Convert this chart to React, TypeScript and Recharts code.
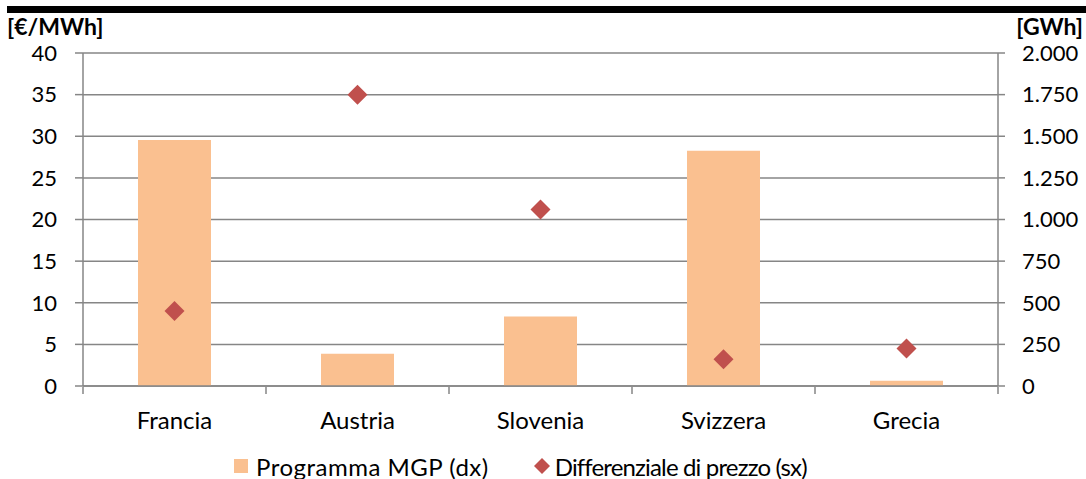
import {
  ComposedChart,
  Bar,
  Line,
  XAxis,
  YAxis,
  CartesianGrid,
  Legend,
} from "recharts";

const countries = ["Francia", "Austria", "Slovenia", "Svizzera", "Grecia"];
// Programma MGP, GWh (right axis)
const programmaMgp = [1478, 193, 417, 1413, 32];
// Differenziale di prezzo, €/MWh (left axis)
const differenziale = [9.0, 35.0, 21.2, 3.2, 4.5];

const priceTicks = [0, 5, 10, 15, 20, 25, 30, 35, 40];
const energyTicks = [0, 250, 500, 750, 1000, 1250, 1500, 1750, 2000];
const edgeTicks = [0, 1, 2, 3, 4, 5];

const data = countries.map((name, i) => ({
  name,
  slot: i + 0.5,
  mgp: programmaMgp[i],
  diff: differenziale[i],
}));

const FONT = "Lato, 'Open Sans', sans-serif";
const GRID = "#868686";
const BAR = "#FAC090";
const MARKER = "#C0504D";

const fmtThousands = (v: number) =>
  v >= 1000 ? `${Math.floor(v / 1000)}.${String(v % 1000).padStart(3, "0")}` : String(v);

const Diamond = (props: any) => {
  const { cx, cy } = props;
  if (cx == null || cy == null) return null;
  const r = 10;
  return (
    <polygon
      points={`${cx},${cy - r} ${cx + r},${cy} ${cx},${cy + r} ${cx - r},${cy}`}
      fill={MARKER}
    />
  );
};

const NoLabel = () => <g />;

const LegendBox = () => (
  <div
    style={{
      height: 26,
      display: "flex",
      alignItems: "center",
      paddingLeft: 234,
      fontFamily: FONT,
      fontSize: 24,
      color: "#000",
    }}
  >
    <span style={{ display: "inline-block", width: 14, height: 14, background: BAR, marginRight: 8 }} />
    <span style={{ marginRight: 45, letterSpacing: 0.5 }}>Programma MGP (dx)</span>
    <svg width={16} height={16} style={{ marginRight: 5 }}>
      <polygon points="8,0 16,8 8,16 0,8" fill={MARKER} />
    </svg>
    <span style={{ letterSpacing: -0.85 }}>Differenziale di prezzo (sx)</span>
  </div>
);

export default function App() {
  const tickStyle = { fill: "#000", fontSize: 22, fontFamily: FONT };
  const catStyle = { fill: "#000", fontSize: 24, fontFamily: FONT };
  const title = {
    position: "absolute" as const,
    top: 15,
    fontFamily: FONT,
    fontWeight: 700,
    fontSize: 23,
    lineHeight: "23px",
  };
  return (
    <div style={{ position: "absolute", left: 0, top: 0, width: 1086, height: 479, background: "#fff" }}>
      <div style={{ position: "absolute", left: 7, right: 0, top: 6, height: 6.5, background: "#000" }} />
      <div style={{ ...title, left: 7 }}>[€/MWh]</div>
      <div style={{ ...title, right: 3 }}>[GWh]</div>

      <ComposedChart
        width={1086}
        height={479}
        data={data}
        margin={{ top: 53, right: 0, bottom: 18, left: 0 }}
        barCategoryGap="30%"
      >
        <CartesianGrid
          yAxisId="price"
          vertical={false}
          stroke={GRID}
          strokeWidth={1.5}
        />
        {/* category names; sits right on the plot edge, space is reserved by the tick axis below */}
        <XAxis
          xAxisId="cat"
          dataKey="name"
          tick={catStyle}
          tickLine={false}
          tickSize={0}
          tickMargin={26}
          axisLine={{ stroke: GRID, strokeWidth: 1.5 }}
          height={1}
        />
        {/* tick marks between categories */}
        <XAxis
          xAxisId="edges"
          type="number"
          dataKey="slot"
          domain={[0, 5]}
          ticks={edgeTicks}
          interval={0}
          tick={<NoLabel />}
          axisLine={false}
          tickLine={{ stroke: GRID, strokeWidth: 1.5 }}
          tickSize={7}
          height={48}
        />
        <YAxis
          yAxisId="price"
          orientation="left"
          domain={[0, 40]}
          ticks={priceTicks}
          width={83}
          tick={tickStyle}
          tickLine={{ stroke: GRID, strokeWidth: 1.5 }}
          tickSize={8}
          tickMargin={18}
          axisLine={{ stroke: GRID, strokeWidth: 1.5 }}
        />
        <YAxis
          yAxisId="energy"
          orientation="right"
          domain={[0, 2000]}
          ticks={energyTicks}
          tickFormatter={fmtThousands}
          width={88}
          tick={tickStyle}
          tickLine={{ stroke: GRID, strokeWidth: 1.5 }}
          tickSize={7}
          tickMargin={17}
          axisLine={{ stroke: GRID, strokeWidth: 1.5 }}
        />
        <Bar
          xAxisId="cat"
          yAxisId="energy"
          dataKey="mgp"
          name="Programma MGP (dx)"
          fill={BAR}
          barSize={73}
          isAnimationActive={false}
        />
        <Line
          xAxisId="cat"
          yAxisId="price"
          dataKey="diff"
          name="Differenziale di prezzo (sx)"
          stroke="none"
          dot={<Diamond />}
          activeDot={false}
          legendType="diamond"
          isAnimationActive={false}
        />
        <Legend
          verticalAlign="bottom"
          content={<LegendBox />}
          wrapperStyle={{ bottom: 0, left: 0, width: 1086 }}
        />
      </ComposedChart>
    </div>
  );
}
